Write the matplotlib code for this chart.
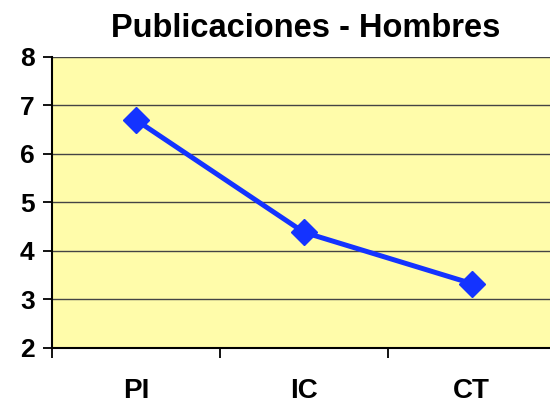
import matplotlib.pyplot as plt
import numpy as np

categories = ["PI", "IC", "CT"]
values = [6.70, 4.38, 3.32]
y_ticks = [2, 3, 4, 5, 6, 7, 8]

plt.rcParams["font.family"] = ["Liberation Sans", "DejaVu Sans"]
plt.rcParams["font.weight"] = "bold"

fig = plt.figure(figsize=(5.5, 4.05), dpi=100)
ax = fig.add_axes([52 / 550, 57.5 / 405, 498 / 550, 290.5 / 405])
ax.set_facecolor("#FFFCAA")

x = np.arange(len(categories))
ax.plot(x, values, color="#1433FF", linewidth=3.6, marker="D",
        markersize=13.5, markeredgecolor="#1433FF", clip_on=False, zorder=3)

# category boundaries get the ticks, names sit between them
ax.set_xlim(-0.5, 2.466)
ax.set_xticks(np.r_[-0.5, x[:-1] + 0.5])
ax.set_xticklabels([])
ax.set_xticks(x, minor=True)
ax.set_xticklabels(categories, minor=True, fontsize=20, fontweight="bold")
ax.tick_params(axis="x", which="major", length=7, width=1.3, direction="out")
ax.tick_params(axis="x", which="minor", length=0, pad=22)

ax.set_ylim(2, 8)
ax.set_yticks(y_ticks)
ax.set_yticklabels([str(t) for t in y_ticks])
ax.tick_params(axis="y", length=6.5, width=1.3, direction="out", pad=6,
               labelsize=19)
for lab in ax.get_yticklabels():
    lab.set_fontweight("heavy")
ax.yaxis.grid(True, color="#444444", linewidth=1.0)
ax.set_axisbelow(True)

for s in ["top", "right"]:
    ax.spines[s].set_visible(False)
for s in ["left", "bottom"]:
    ax.spines[s].set_linewidth(1.5)

fig.text(306 / 550, 1 - 37 / 405, "Publicaciones - Hombres", ha="center",
         va="baseline", fontsize=23.5, fontweight="bold")

fig.savefig("out.png", dpi=100)
plt.close(fig)
